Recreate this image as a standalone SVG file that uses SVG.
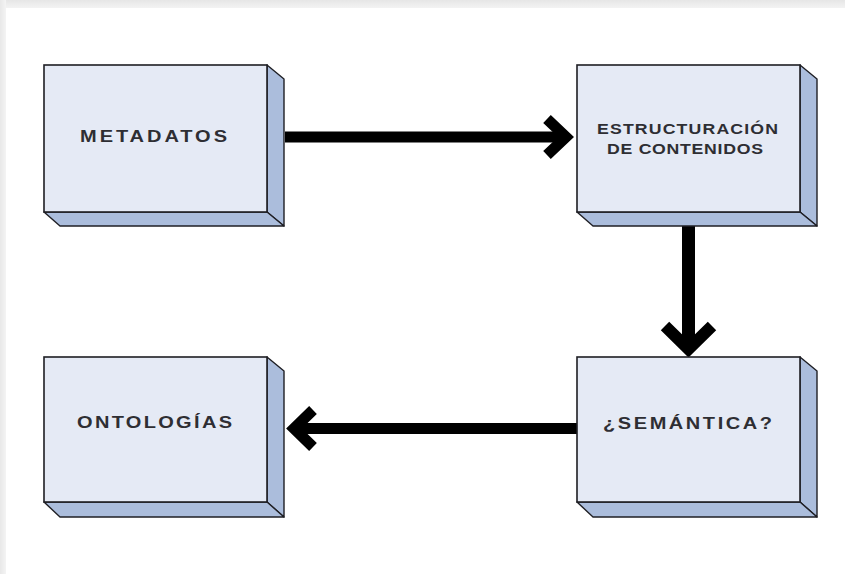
<svg xmlns="http://www.w3.org/2000/svg" width="845" height="574" viewBox="0 0 845 574">
  <defs>
    <linearGradient id="topEdge" x1="0" y1="0" x2="0" y2="1">
      <stop offset="0" stop-color="#e6e6e6"/>
      <stop offset="1" stop-color="#f3f3f3"/>
    </linearGradient>
    <linearGradient id="leftEdge" x1="0" y1="0" x2="1" y2="0">
      <stop offset="0" stop-color="#e8e8e8"/>
      <stop offset="1" stop-color="#f4f4f4"/>
    </linearGradient>
  </defs>
  <style>
    .front { fill: #e5eaf5; stroke: #1f1f24; stroke-width: 1.6; }
    .side { fill: #abbddc; stroke: #1f1f24; stroke-width: 1.4; stroke-linejoin: round; }
    .label { font-family: "Liberation Sans", Arial, sans-serif; font-weight: bold; fill: #2e2e33; text-anchor: middle; }
    .conn { fill: none; stroke: #000; stroke-linejoin: miter; stroke-linecap: butt; }
  </style>

  <!-- page with a light frame on the top and left edges -->
  <rect x="0" y="0" width="845" height="574" fill="#ffffff"/>
  <rect x="0" y="0" width="845" height="8" fill="url(#topEdge)"/>
  <rect x="0" y="0" width="6" height="574" fill="url(#leftEdge)"/>

  <!-- connectors -->
  <g id="connectors">
    <path class="conn" stroke-width="11" d="M285 137 H566"/>
    <path class="conn" stroke-width="11" d="M547 119 L566 137 L547 155"/>
    <path class="conn" stroke-width="13" d="M688.5 226 V349"/>
    <path class="conn" stroke-width="12" d="M665 326 L688.5 349 L712 326"/>
    <path class="conn" stroke-width="11" d="M577 428.5 H294"/>
    <path class="conn" stroke-width="11" d="M313 410 L294 428.5 L313 447"/>
  </g>

  <!-- node: METADATOS -->
  <g id="metadatos">
    <polygon class="side" points="267,65 284,79 284,226 267,212"/>
    <polygon class="side" points="44,212 267,212 284,226 60,226"/>
    <rect class="front" x="44" y="65" width="223" height="147"/>
    <g transform="translate(153.5 141.5) scale(1.25 1)">
      <text class="label" x="0" y="0" font-size="16" textLength="117.6">METADATOS</text>
    </g>
  </g>

  <!-- node: ESTRUCTURACIÓN DE CONTENIDOS -->
  <g id="estructuracion">
    <polygon class="side" points="800,65 817,79 817,226 800,212"/>
    <polygon class="side" points="577,212 800,212 817,226 593,226"/>
    <rect class="front" x="577" y="65" width="223" height="147"/>
    <g transform="translate(687.5 133.5) scale(1.22 1)">
      <text class="label" x="0" y="0" font-size="14.5" textLength="148.4">ESTRUCTURACIÓN</text>
    </g>
    <g transform="translate(685 153.5) scale(1.22 1)">
      <text class="label" x="0" y="0" font-size="14.5" textLength="127.9">DE CONTENIDOS</text>
    </g>
  </g>

  <!-- node: ¿SEMÁNTICA? -->
  <g id="semantica">
    <polygon class="side" points="800,357 817,371 817,517 800,502"/>
    <polygon class="side" points="577,502 800,502 817,517 593,517"/>
    <rect class="front" x="577" y="357" width="223" height="145"/>
    <g transform="translate(687.5 428.5) scale(1.25 1)">
      <text class="label" x="0" y="0" font-size="16" textLength="135.2">¿SEMÁNTICA?</text>
    </g>
  </g>

  <!-- node: ONTOLOGÍAS -->
  <g id="ontologias">
    <polygon class="side" points="267,357 284,371 284,517 267,502"/>
    <polygon class="side" points="44,502 267,502 284,517 60,517"/>
    <rect class="front" x="44" y="357" width="223" height="145"/>
    <g transform="translate(154.5 427.5) scale(1.25 1)">
      <text class="label" x="0" y="0" font-size="16" textLength="124">ONTOLOGÍAS</text>
    </g>
  </g>
</svg>
